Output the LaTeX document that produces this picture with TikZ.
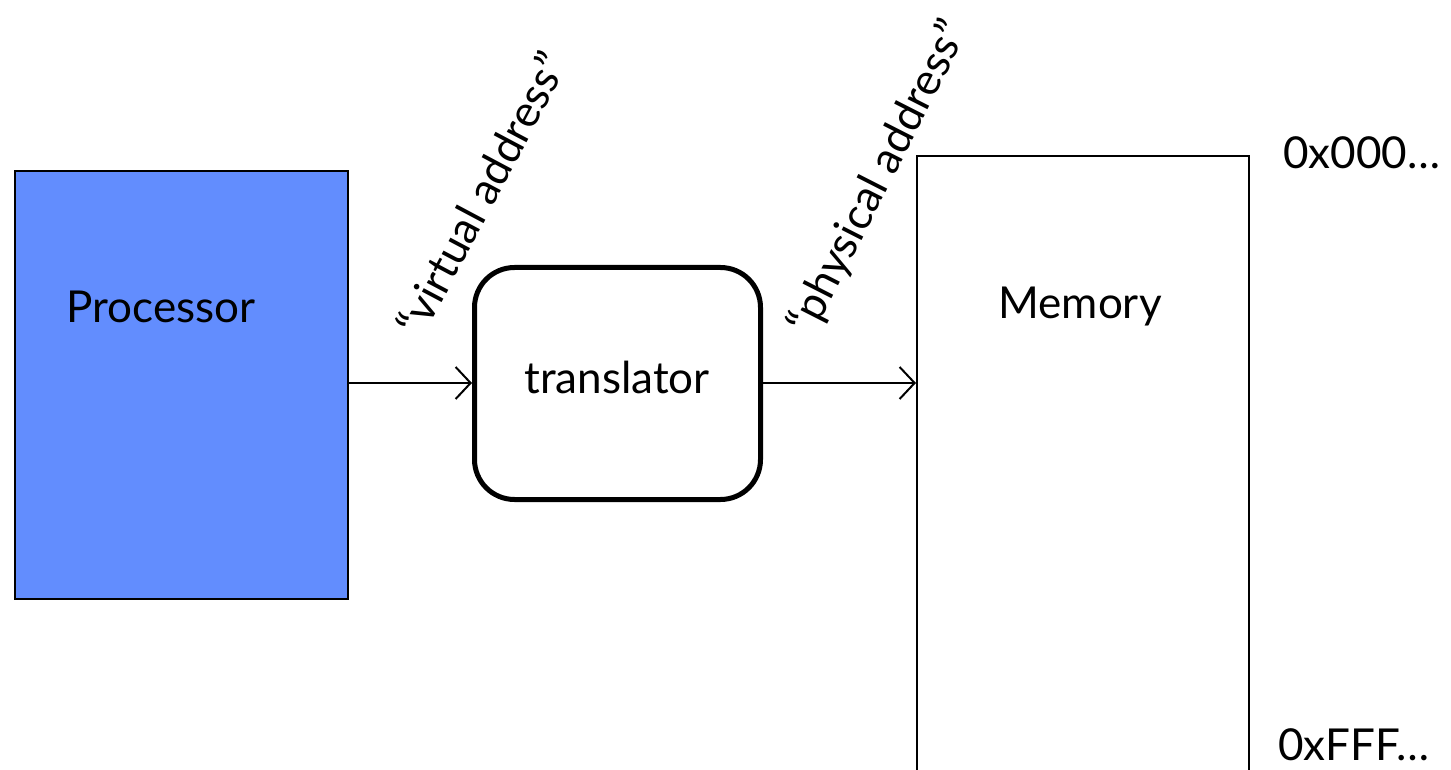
\documentclass[tikz,border=0pt]{standalone}
\usepackage{fontspec}
\setmainfont{Lato}
\usetikzlibrary{arrows.meta}
\definecolor{procblue}{RGB}{98,141,254}
\tikzset{
  lbl/.style={font=\fontsize{22}{26}\selectfont, inner sep=0pt},
  conn/.style={line width=1pt, -{Straight Barb[length=7.5pt,width=16pt,line width=1pt]}},
}
\begin{document}
\begin{tikzpicture}[x=0.5pt,y=-0.5pt]
\clip (0,0) rectangle (1451,770);
\useasboundingbox (0,0) rectangle (1451,770);
\node[draw, line width=1.2pt, fill=procblue, minimum width=166.5pt, minimum height=214pt, anchor=north west, inner sep=0pt] (proc) at (14,170) {};
\node[lbl] (proclbl) at (161,307) {Processor};
\node[draw, line width=2.5pt, rounded corners=20pt, minimum width=143pt, minimum height=116pt, fill=white] (trans) at (617.5,383.5) {};
\node[lbl] (translbl) at (617,377) {translator};
\node[draw, line width=1pt, minimum width=166pt, minimum height=340pt, anchor=north west, inner sep=0pt] (mem) at (916,155) {};
\node[lbl] (memlbl) at (1080,307) {Memory};
\coordinate (a1) at (347,383);
\coordinate (a2) at (763,383);
\draw[conn] (a1) -- (a1 -| trans.west);
\draw[conn] (a2) -- (a2 -| mem.west);
\node[lbl, rotate=62, anchor=base west] (vaddr) at (422,340) {“virtual address”};
\node[lbl, rotate=63, anchor=base west] (paddr) at (812,338) {“physical address”};
\node[lbl, anchor=west] (top) at (1283,153) {0x000…};
\node[lbl, anchor=west] (bot) at (1278,745) {0xFFF…};
\end{tikzpicture}
\end{document}
